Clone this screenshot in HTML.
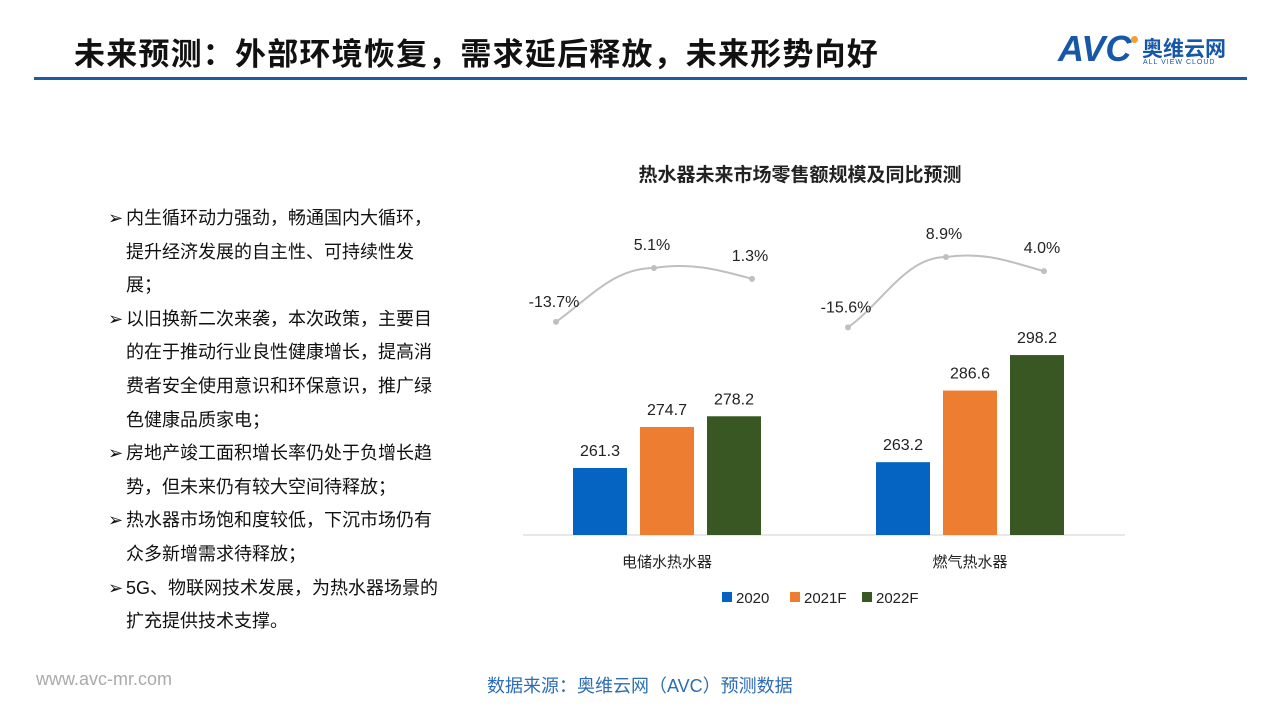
<!DOCTYPE html>
<html><head><meta charset="utf-8"><style>
body{margin:0;width:1280px;height:720px;background:#fff;position:relative;overflow:hidden;font-family:"Liberation Sans","Noto Sans CJK SC",sans-serif;}
.title{position:absolute;left:74px;top:29px;font-size:31px;font-weight:bold;color:#111;letter-spacing:1.2px}
.rule{position:absolute;left:34px;top:77px;width:1213px;height:3px;background:#1f5aa6}
.logo{position:absolute;left:1058px;top:28px;color:#1657a8}
.bul{position:absolute;left:108px;top:202px;font-size:18px;line-height:33.6px;color:#111}
.bul div{position:relative;padding-left:18px}
.bul div span.m{position:absolute;left:0}
.src{position:absolute;left:487px;top:672px;font-size:18px;color:#2d6db5}
.web{position:absolute;left:36px;top:669px;font-size:18px;color:#aaa}
</style></head><body>
<div class="title">未来预测：外部环境恢复，需求延后释放，未来形势向好</div>
<div class="rule"></div>
<div class="logo">
<span style="font-size:36px;font-weight:bold;font-style:italic;letter-spacing:0px">AVC</span><span style="display:inline-block;width:7px;height:7px;border-radius:50%;background:#f0a030;vertical-align:top;margin-top:8px"></span>
<span style="position:absolute;left:84px;top:5px;font-size:21px;font-weight:bold;white-space:nowrap">奥维云网</span>
<span style="position:absolute;left:85px;top:31px;font-size:7px;white-space:nowrap;letter-spacing:1px">ALL VIEW CLOUD</span>
</div>
<div class="bul">
<div><span class="m">➢</span>内生循环动力强劲，畅通国内大循环，<br>提升经济发展的自主性、可持续性发<br>展；</div>
<div><span class="m">➢</span>以旧换新二次来袭，本次政策，主要目<br>的在于推动行业良性健康增长，提高消<br>费者安全使用意识和环保意识，推广绿<br>色健康品质家电；</div>
<div><span class="m">➢</span>房地产竣工面积增长率仍处于负增长趋<br>势，但未来仍有较大空间待释放；</div>
<div><span class="m">➢</span>热水器市场饱和度较低，下沉市场仍有<br>众多新增需求待释放；</div>
<div><span class="m">➢</span>5G、物联网技术发展，为热水器场景的<br>扩充提供技术支撑。</div>
</div>
<svg id="chart" width="1280" height="720" style="position:absolute;left:0;top:0"></svg>
<div class="web">www.avc-mr.com</div>
<div class="src">数据来源：奥维云网（AVC）预测数据</div>
<script>
const categories=["电储水热水器","燃气热水器"];
const seriesNames=["2020","2021F","2022F"];
const values2020=[261.3,263.2];
const values2021=[274.7,286.6];
const values2022=[278.2,298.2];
const growth2020=[-13.7,-15.6];
const growth2021=[5.1,8.9];
const growth2022=[1.3,4.0];
const colors=["#0563c1","#ed7d31","#385723"];
const svg=document.getElementById('chart');const NS="http://www.w3.org/2000/svg";
function mk(t,a,p){const e=document.createElementNS(NS,t);for(const k in a)e.setAttribute(k,a[k]);(p||svg).appendChild(e);return e;}
const base=535;
function yb(v){return base-(v-239.4)*3.06;}
function yg(v){return 282.6-v*2.87;}
const centers=[668,971];
function xBar(ci,si){return centers[ci]-95+si*67;}
function xLine(ci,si){return centers[ci]-112-ci*11+si*98;}
const t=mk('text',{x:800,y:181,'text-anchor':'middle','font-size':19,'font-weight':'bold',fill:'#222'});t.textContent="热水器未来市场零售额规模及同比预测";


const ax=mk('line',{x1:523,x2:1125,y1:base,y2:base,stroke:'#d0d0d0','stroke-width':1});


const allVals=[values2020,values2021,values2022];
const allG=[growth2020,growth2021,growth2022];
categories.forEach((c,ci)=>{
 allVals.forEach((arr,si)=>{
  const x=xBar(ci,si),y=yb(arr[ci]);
  const r=mk('rect',{x:x,y:y,width:54,height:base-y,fill:colors[si]});
  
  
  const l=mk('text',{x:x+27,y:y-12,'text-anchor':'middle','font-size':16,fill:'#222'});l.textContent=arr[ci].toFixed(1);
  
  
 });
 const pts=allG.map((g,si)=>[xLine(ci,si),yg(g[ci])]);
 const [p0,p1,p2]=pts;
 const d=`M${p0[0]},${p0[1]} C${p0[0]+35},${p0[1]-25} ${p1[0]-40},${p1[1]} ${p1[0]},${p1[1]} C${p1[0]+40},${p1[1]-6} ${p2[0]-30},${p2[1]-8} ${p2[0]},${p2[1]}`;
 const ln=mk('path',{d:d,fill:'none',stroke:'#bfbfbf','stroke-width':2});
 
 
 pts.forEach((p,si)=>{
  const dot=mk('circle',{cx:p[0],cy:p[1],r:3,fill:'#bfbfbf'});
  
  
  const g=allG[si][ci];
  const lb=mk('text',{x:p[0]-2,y:p[1]-(si===0?15:18),'text-anchor':'middle','font-size':16,fill:'#222'});lb.textContent=g.toFixed(1)+'%';
  
  
 });
 const cl=mk('text',{x:centers[ci]-1,y:567,'text-anchor':'middle','font-size':15,fill:'#222'});cl.textContent=c;
 
 
});
const lx=[722,790,862];
seriesNames.forEach((s,si)=>{
 const r=mk('rect',{x:lx[si],y:592,width:10,height:10,fill:colors[si]});
 
 
 const tx=mk('text',{x:lx[si]+14,y:603,'font-size':15,fill:'#222'});tx.textContent=s;
 
 
});
</script>
</body></html>
